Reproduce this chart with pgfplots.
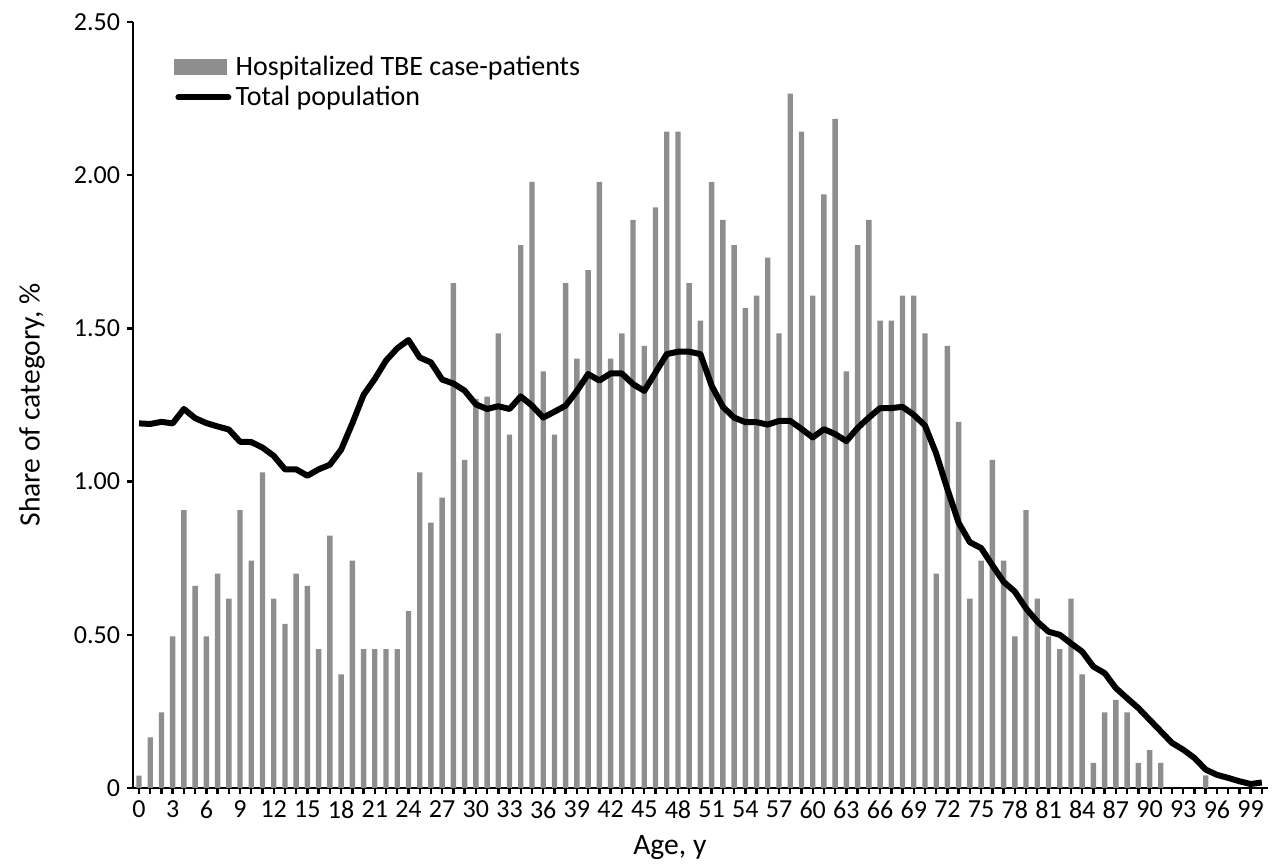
\documentclass[border=0pt]{standalone}
\usepackage{fontspec}
\setmainfont{Carlito}
\usepackage{pgfplots}
\pgfplotsset{compat=1.18}
\usepackage{pgfplotstable}
\definecolor{barGray}{RGB}{142,142,142}

\pgfplotstableread{
age hosp pop
0 0.040 1.190
1 0.165 1.188
2 0.247 1.195
3 0.495 1.190
4 0.907 1.237
5 0.660 1.207
6 0.495 1.191
7 0.700 1.180
8 0.618 1.170
9 0.907 1.130
10 0.742 1.129
11 1.030 1.111
12 0.618 1.084
13 0.536 1.040
14 0.700 1.040
15 0.660 1.019
16 0.453 1.040
17 0.824 1.055
18 0.371 1.104
19 0.742 1.190
20 0.453 1.283
21 0.453 1.335
22 0.453 1.395
23 0.453 1.435
24 0.577 1.462
25 1.030 1.405
26 0.866 1.389
27 0.948 1.333
28 1.648 1.320
29 1.071 1.297
30 1.270 1.252
31 1.277 1.237
32 1.484 1.246
33 1.153 1.237
34 1.772 1.278
35 1.978 1.248
36 1.360 1.209
37 1.153 1.228
38 1.648 1.248
39 1.401 1.296
40 1.690 1.351
41 1.978 1.330
42 1.401 1.353
43 1.484 1.353
44 1.854 1.318
45 1.443 1.296
46 1.895 1.356
47 2.142 1.416
48 2.142 1.424
49 1.648 1.424
50 1.525 1.416
51 1.978 1.313
52 1.854 1.244
53 1.772 1.209
54 1.566 1.194
55 1.607 1.194
56 1.731 1.186
57 1.484 1.198
58 2.266 1.198
59 2.142 1.172
60 1.607 1.144
61 1.937 1.171
62 2.184 1.155
63 1.360 1.132
64 1.772 1.175
65 1.854 1.209
66 1.525 1.240
67 1.525 1.240
68 1.607 1.244
69 1.607 1.218
70 1.484 1.183
71 0.700 1.091
72 1.443 0.975
73 1.195 0.865
74 0.618 0.802
75 0.742 0.783
76 1.071 0.727
77 0.742 0.673
78 0.495 0.641
79 0.907 0.586
80 0.618 0.543
81 0.495 0.510
82 0.453 0.500
83 0.618 0.472
84 0.371 0.445
85 0.082 0.396
86 0.247 0.375
87 0.288 0.326
88 0.247 0.293
89 0.082 0.261
90 0.124 0.223
91 0.082 0.185
92 0 0.147
93 0 0.125
94 0 0.098
95 0.041 0.060
96 0 0.043
97 0 0.033
98 0 0.022
99 0 0.013
100 0 0.018
}\datatable

\begin{document}
\begin{tikzpicture}
\begin{axis}[
  name=ax,
  scale only axis,
  width=567.5pt, height=383pt,
  xmin=-0.534, xmax=100.55,
  ymin=0, ymax=2.5,
  axis x line*=bottom, axis y line*=left,
  axis line style={line width=1.4pt, black},
  xtick={0,3,...,99},
  minor xtick={0,1,...,100},
  ytick={0,0.5,1,1.5,2,2.5},
  yticklabels={0,0.50,1.00,1.50,2.00,2.50},
  tick align=outside,
  major tick length=3pt, minor tick length=3pt,
  every tick/.style={line width=1.2pt, black},
  every minor tick/.style={line width=1.2pt, black},
  /pgf/number format/assume math mode=true,
  ticklabel style={font=\fontsize{13}{15}\selectfont},
  xlabel={Age, y},
  ylabel={Share of category, \%},
  label style={font=\fontsize{14.8}{17}\selectfont},
  xlabel style={at={(axis description cs:0.473,-0.078)}, anchor=center},
  ylabel style={at={(axis description cs:-0.089,0.5)}, anchor=center},
  legend style={at={(axis description cs:0.0335,0.958)}, anchor=north west,
    draw=none, fill=none, inner sep=0pt,
    font=\fontsize{14}{16}\selectfont, cells={anchor=west}, row sep=2.8pt,
    nodes={inner sep=0.6pt}},
]
\addplot[ybar, bar width=0.48, fill=barGray, draw=none,
  legend image code/.code={\fill[barGray] (0pt,-4pt) rectangle (26.5pt,4pt); \path (28.5pt,0pt);}]
  table[x=age,y=hosp]{\datatable};
\addlegendentry{Hospitalized TBE case-patients}
\addplot[black, line width=3pt, line join=round, mark=none,
  legend image code/.code={\draw[black, line width=3pt, line cap=round] (2pt,0pt) -- (27pt,0pt); \path (0pt,0pt) (28.5pt,0pt);}]
  table[x=age,y=pop]{\datatable};
\addlegendentry{Total population}
\end{axis}
\pgfresetboundingbox
\path ([shift={(-66.5pt,-38.5pt)}]ax.south west) rectangle ([shift={(2pt,11pt)}]ax.north east);
\end{tikzpicture}
\end{document}
